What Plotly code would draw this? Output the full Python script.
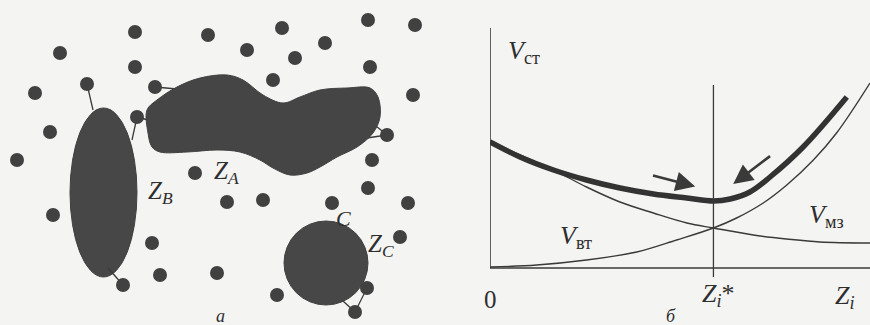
import plotly.graph_objects as go

# ---------------- Panel a: scattered points and zones (pixel-like coordinates) -------------
dot_x = [135, 208, 282, 368, 415, 60, 247, 325, 295, 135, 370, 87, 155, 273, 35, 413,
         137, 50, 387, 17, 372, 195, 227, 263, 368, 332, 408, 53, 152, 400, 160, 217,
         123, 277, 367, 355]
dot_y = [32, 35, 28, 20, 25, 53, 50, 43, 58, 67, 67, 84, 87, 80, 93, 95,
         117, 132, 135, 160, 160, 173, 202, 200, 188, 203, 203, 215, 243, 237, 275, 273,
         285, 295, 288, 312]

blob_x = [147, 157, 177, 200, 227, 243, 263, 283, 300, 320, 347, 370, 378, 380, 373, 357,
          337, 320, 307, 290, 273, 260, 240, 217, 187, 160, 152, 148, 147]
blob_y = [110, 100, 87, 78, 75, 80, 95, 103, 97, 90, 88, 88, 97, 117, 133, 147,
          157, 167, 173, 175, 168, 160, 152, 150, 152, 152, 147, 133, 110]

ellipse_box = [70, 108, 137, 277]   # x0, y0, x1, y1 of zone B
circle_box = [284, 221, 368, 305]   # x0, y0, x1, y1 of zone C

link_x0 = [87, 123, 137, 137, 155, 387, 387, 343, 355]
link_y0 = [84, 285, 117, 117, 87, 135, 135, 301, 312]
link_x1 = [93, 108, 132, 148, 177, 376, 360, 355, 367]
link_y1 = [110, 268, 140, 120, 89, 126, 139, 312, 288]

# ---------------- Panel б: cost curves ---------------------------------------------------
z_mz = [0.0, 0.079, 0.167, 0.254, 0.342, 0.43, 0.518, 0.588, 0.693, 0.781, 0.868, 1.0]
v_mz = [1.27, 1.13, 0.98, 0.81, 0.66, 0.55, 0.45, 0.40, 0.33, 0.29, 0.26, 0.25]

z_vt = [0.0, 0.123, 0.254, 0.386, 0.491, 0.588, 0.649, 0.719, 0.781, 0.851, 0.912, 1.0]
v_vt = [0.01, 0.03, 0.08, 0.16, 0.28, 0.40, 0.50, 0.65, 0.83, 1.08, 1.35, 1.85]

z_st = [0.0, 0.079, 0.167, 0.254, 0.342, 0.43, 0.518, 0.588, 0.632, 0.684, 0.737, 0.824, 0.939]
v_st = [1.26, 1.11, 0.98, 0.88, 0.80, 0.74, 0.70, 0.67, 0.69, 0.76, 0.91, 1.21, 1.71]

z_star = 0.588

INK = "#3a3a3a"
BG = "#f4f4f2"
SERIF = "Liberation Serif, Times New Roman, serif"

fig = go.Figure()

# links in panel a
for a, b, c, d in zip(link_x0, link_y0, link_x1, link_y1):
    fig.add_trace(go.Scatter(x=[a, c], y=[b, d], mode="lines",
                             line=dict(color=INK, width=1.3), hoverinfo="skip",
                             showlegend=False, xaxis="x", yaxis="y"))

# blob zone A
fig.add_trace(go.Scatter(x=blob_x, y=blob_y, mode="lines", fill="toself",
                         fillcolor="#454545", line=dict(color="#404040", width=1, shape="spline"),
                         hoverinfo="skip", showlegend=False, xaxis="x", yaxis="y"))

# dots
fig.add_trace(go.Scatter(x=dot_x, y=dot_y, mode="markers",
                         marker=dict(size=14, color="#414141", line=dict(width=0)),
                         hoverinfo="skip", showlegend=False, xaxis="x", yaxis="y"))

# panel б curves
fig.add_trace(go.Scatter(x=z_mz, y=v_mz, mode="lines", line=dict(color=INK, width=1.4, shape="spline"),
                         showlegend=False, xaxis="x2", yaxis="y2"))
fig.add_trace(go.Scatter(x=z_vt, y=v_vt, mode="lines", line=dict(color=INK, width=1.4, shape="spline"),
                         showlegend=False, xaxis="x2", yaxis="y2"))
fig.add_trace(go.Scatter(x=z_st, y=v_st, mode="lines", line=dict(color="#333333", width=5.5, shape="spline"),
                         showlegend=False, xaxis="x2", yaxis="y2"))

shapes = [
    dict(type="circle", xref="x", yref="y", x0=ellipse_box[0], y0=ellipse_box[1],
         x1=ellipse_box[2], y1=ellipse_box[3], fillcolor="#474747", line=dict(color="#404040", width=1),
         layer="below"),
    dict(type="circle", xref="x", yref="y", x0=circle_box[0], y0=circle_box[1],
         x1=circle_box[2], y1=circle_box[3], fillcolor="#474747", line=dict(color="#404040", width=1),
         layer="below"),
    # axes of panel б
    dict(type="line", xref="x2", yref="y2", x0=0, y0=0, x1=1.0, y1=0, line=dict(color=INK, width=1.6)),
    dict(type="line", xref="x2", yref="y2", x0=0, y0=0, x1=0, y1=2.4, line=dict(color=INK, width=1.6)),
    dict(type="line", xref="x2", yref="y2", x0=z_star, y0=-0.09, x1=z_star, y1=1.83,
         line=dict(color=INK, width=1.3)),
]

def txt(x, y, s, size, xref="x", yref="y"):
    return dict(x=x, y=y, xref=xref, yref=yref, text=s, showarrow=False,
                font=dict(family=SERIF, size=size, color="#2e2e2e"),
                xanchor="center", yanchor="middle")

annotations = [
    txt(226, 172, "<i>Z</i><sub><i>A</i></sub>", 25),
    txt(160, 192, "<i>Z</i><sub><i>B</i></sub>", 25),
    txt(343, 218, "<i>C</i>", 22),
    txt(381, 245, "<i>Z</i><sub><i>C</i></sub>", 25),
    txt(220, 316, "<i>а</i>", 18),
    txt(0.09, 2.16, "<i>V</i><sub>ст</sub>", 26, "x2", "y2"),
    txt(0.225, 0.31, "<i>V</i><sub>вт</sub>", 26, "x2", "y2"),
    txt(0.885, 0.52, "<i>V</i><sub>мз</sub>", 26, "x2", "y2"),
    txt(0.0, -0.31, "0", 25, "x2", "y2"),
    txt(0.60, -0.27, "<i>Z</i><sub><i>i</i></sub>*", 26, "x2", "y2"),
    txt(0.935, -0.29, "<i>Z</i><sub><i>i</i></sub>", 26, "x2", "y2"),
    txt(0.475, -0.48, "<i>б</i>", 18, "x2", "y2"),
    dict(x=0.54, y=0.815, ax=0.425, ay=0.93, xref="x2", yref="y2", axref="x2", ayref="y2",
         text="", showarrow=True, arrowhead=2, arrowsize=1.5, arrowwidth=2.6, arrowcolor=INK),
    dict(x=0.64, y=0.84, ax=0.741, ay=1.13, xref="x2", yref="y2", axref="x2", ayref="y2",
         text="", showarrow=True, arrowhead=2, arrowsize=1.5, arrowwidth=2.6, arrowcolor=INK),
]

W, H = 870, 325
fig.update_layout(
    width=W, height=H, margin=dict(l=0, r=0, t=0, b=0),
    paper_bgcolor=BG, plot_bgcolor="rgba(0,0,0,0)",
    shapes=shapes, annotations=annotations, showlegend=False,
    xaxis=dict(domain=[0, 1], range=[0, W], visible=False),
    yaxis=dict(domain=[0, 1], range=[H, 0], visible=False),
    xaxis2=dict(domain=[490 / W, 1], range=[0, 1.0], visible=False, anchor="y2"),
    yaxis2=dict(domain=[1 - 318 / H, 1 - 28 / H], range=[-0.5, 2.4], visible=False, anchor="x2"),
)

fig.write_html("out.html", config={"displayModeBar": False},
               post_script="document.body.style.margin='0';document.body.style.padding='0';"
                           "document.body.style.background='" + BG + "';")
